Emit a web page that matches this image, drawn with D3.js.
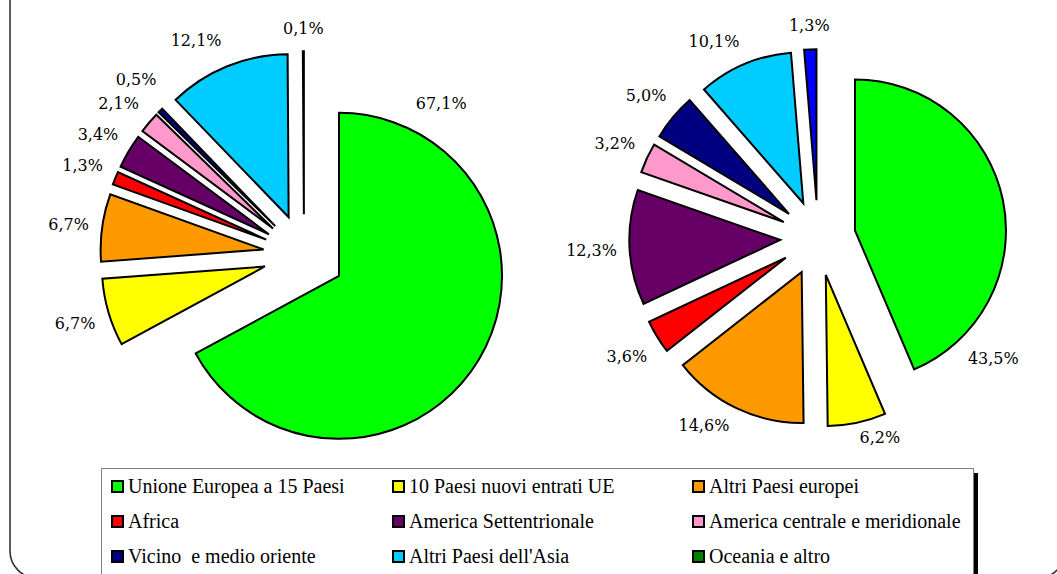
<!DOCTYPE html>
<html>
<head>
<meta charset="utf-8">
<script src="https://cdn.jsdelivr.net/npm/d3@7"></script>
<style>
  body { margin: 0; background: #fff; }
  svg { display: block; }
  .lbl { font-family: "DejaVu Serif", "Liberation Serif", serif; font-size: 16px; }
  .leg { font-family: "Liberation Serif", "Times New Roman", serif; font-size: 20px; white-space: pre; }
</style>
</head>
<body>
<div id="chart"></div>
<script>
// categories (legend order = slice order, clockwise from 12 o'clock)
var categories = [
  "Unione Europea a 15 Paesi",
  "10 Paesi nuovi entrati UE",
  "Altri Paesi europei",
  "Africa",
  "America Settentrionale",
  "America centrale e meridionale",
  "Vicino  e medio oriente",
  "Altri Paesi dell'Asia",
  "Oceania e altro"
];
var leftValues = [67.1, 6.7, 6.7, 1.3, 3.4, 2.1, 0.5, 12.1, 0.1];
var rightValues = [43.5, 6.2, 14.6, 3.6, 12.3, 3.2, 5.0, 10.1, 1.3];

var colors = ["#00FF00", "#FFFF00", "#FF9900", "#FF0000", "#660066",
              "#FF99CC", "#000080", "#00CCFF", "#008000"];
// the right chart draws its last slice in plain blue
var rightColors = colors.slice(0, 8).concat(["#0000FF"]);

// labels moved by hand in the original: polar angle (deg) and distance from pie centre
var leftLabelFix = [{a: 42, d: 205}, null, null, null, null, {a: 309.4, d: 240}, {a: 316.5, d: 244}, {a: 333.4, d: 241}, null];
var rightLabelFix = [{a: 124.2, d: 212}, {a: 162.7, d: 208}, {a: 211.4, d: 219}, null, null, null, null, {a: 332.2, d: 223}, null];

var W = 1057, H = 574;
var EXPLODE = 0.25;   // slice offset as a fraction of the radius
var fmt = d3.format(".1f");

var svg = d3.select("#chart").append("svg")
    .attr("width", W)
    .attr("height", H);

svg.append("rect")
    .attr("width", W).attr("height", H)
    .attr("fill", "#fff");

// outer rounded frame (only left side + bottom corners show)
svg.append("rect")
    .attr("x", 10).attr("y", -80)
    .attr("width", 1055).attr("height", 658)
    .attr("rx", 27).attr("ry", 27)
    .attr("fill", "none")
    .attr("stroke", "#333")
    .attr("stroke-width", 1.6);

function drawPie(cx, cy, r, values, sliceColors, labelFix) {
  var g = svg.append("g")
      .attr("transform", "translate(" + cx + "," + cy + ")");

  var pie = d3.pie().sort(null).value(function (d) { return d; });
  var arcs = pie(values);
  var arc = d3.arc().innerRadius(0).outerRadius(r);
  var off = r * EXPLODE;

  arcs.forEach(function (a, i) {
    var mid = (a.startAngle + a.endAngle) / 2;
    var ox = Math.sin(mid) * off, oy = -Math.cos(mid) * off;

    g.append("path")
        .attr("d", arc(a))
        .attr("transform", "translate(" + ox + "," + oy + ")")
        .attr("fill", sliceColors[i])
        .attr("stroke", "#000")
        .attr("stroke-width", 2)
        .attr("stroke-linejoin", "miter");

    // label outside the slice
    var t = g.append("text")
        .attr("class", "lbl")
        .attr("text-anchor", "middle")
        .attr("dominant-baseline", "central")
        .attr("fill", "#000")
        .text(fmt(values[i]).replace(".", ",") + "%");
    var la, dist;
    if (labelFix[i]) {
      la = labelFix[i].a * Math.PI / 180;
      dist = labelFix[i].d;
    } else {
      var w = t.node().getComputedTextLength();
      la = mid;
      dist = r + off + 12 + Math.abs(Math.sin(la)) * w / 2 + Math.abs(Math.cos(la)) * 12;
    }
    t.attr("x", Math.sin(la) * dist)
     .attr("y", -Math.cos(la) * dist + 1);
  });
}

drawPie(304, 255, 163, leftValues, colors, leftLabelFix);
drawPie(818, 238, 151, rightValues, rightColors, rightLabelFix);

// legend box with shadow
var lg = svg.append("g");
lg.append("rect")
    .attr("x", 106).attr("y", 473)
    .attr("width", 872).attr("height", 140)
    .attr("fill", "#000");
lg.append("rect")
    .attr("x", 101.5).attr("y", 468.5)
    .attr("width", 872).attr("height", 140)
    .attr("fill", "#fff")
    .attr("stroke", "#808080")
    .attr("stroke-width", 1);

var colX = [111, 392, 692];
var rowY = [493, 528, 563];

var items = lg.selectAll(".item")
    .data(categories)
    .enter()
    .append("g")
    .attr("class", "item")
    .attr("transform", function (d, i) {
      return "translate(" + colX[i % 3] + "," + rowY[Math.floor(i / 3)] + ")";
    });

items.append("rect")
    .attr("x", 1).attr("y", -12)
    .attr("width", 11).attr("height", 11)
    .attr("fill", function (d, i) { return colors[i]; })
    .attr("stroke", "#000")
    .attr("stroke-width", 2);

items.append("text")
    .attr("class", "leg")
    .attr("x", 17)
    .attr("y", 0)
    .attr("fill", "#000")
    .text(function (d) { return d; });
</script>
</body>
</html>
